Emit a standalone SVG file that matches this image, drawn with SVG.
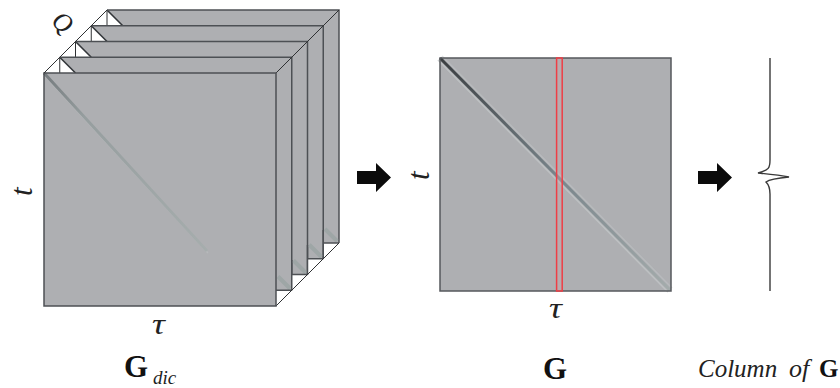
<svg xmlns="http://www.w3.org/2000/svg" width="840" height="388" viewBox="0 0 840 388">
<style>
.g{fill:#aeafb2}
.e{fill:none;stroke:#4d5054;stroke-width:1.5}
.w{fill:#fff}
.k{fill:none;stroke:#2f3133;stroke-width:1}
.s{fill:none;stroke:#33363a;stroke-width:1.6}
.sh{fill:none;stroke:#9ea6a6;stroke-width:4}
.i{font-family:"Liberation Serif",serif;font-style:italic;fill:#222}
.b{font-family:"Liberation Serif",serif;font-weight:bold;fill:#111}
</style>
<defs>
<linearGradient id="d1" gradientUnits="userSpaceOnUse" x1="44" y1="73" x2="207" y2="251"><stop offset="0" stop-color="#757b7e"/><stop offset=".25" stop-color="#969e9f"/><stop offset="1" stop-color="#a6adad"/></linearGradient>
<linearGradient id="d2" gradientUnits="userSpaceOnUse" x1="440" y1="58" x2="670" y2="290"><stop offset="0" stop-color="#3a3e41"/><stop offset=".5" stop-color="#78848a"/><stop offset="1" stop-color="#a4acac"/></linearGradient>
</defs>
<g id="layers">
<rect class="g" x="107" y="10" width="232" height="233"/>
<path class="w" d="M91.25 25.75L107 10L122.75 25.75Z"/>
<path class="s" d="M107 10L122.750 25.750"/>
<path class="k" d="M107 10V25.750"/>
<path class="e" d="M107 10H339V243"/>
<rect class="g" x="91.25" y="25.75" width="232" height="233"/>
<path class="w" d="M75.5 41.5L91.25 25.75L107 41.5Z"/>
<path class="s" d="M91.25 25.75L107 41.5"/>
<path class="k" d="M91.25 25.75V41.5"/>
<path class="e" d="M91.25 25.75H323.25V258.75"/>
<rect class="g" x="75.5" y="41.5" width="232" height="233"/>
<path class="w" d="M59.75 57.25L75.5 41.5L91.25 57.25Z"/>
<path class="s" d="M75.5 41.5L91.25 57.25"/>
<path class="k" d="M75.5 41.5V57.25"/>
<path class="e" d="M75.5 41.5H307.5V274.5"/>
<rect class="g" x="59.75" y="57.25" width="232" height="233"/>
<path class="w" d="M44 73L59.75 57.25L75.5 73Z"/>
<path class="s" d="M59.75 57.25L75.5 73"/>
<path class="k" d="M59.75 57.25V73"/>
<path class="e" d="M59.75 57.25H291.75V290.25"/>
<path class="sh" d="M325 229L337 241M309.25 244.750L321.5 257M293.5 260.500L305.750 272.750M278 276.500L290 288.500"/>
<path class="w" d="M323.25 243H339L323.25 258.75Z"/>
<path class="w" d="M307.5 258.75H323.25L307.5 274.5Z"/>
<path class="w" d="M291.75 274.5H307.5L291.75 290.25Z"/>
<path class="w" d="M276 290.25H291.75L276 306Z"/>
<path class="e" d="M323.25 243H339M307.5 258.75H323.25M291.75 274.5H307.5M276 290.25H291.75M323.25 230V258.75M307.5 245V274.5M291.75 260V290.25"/>
<path class="k" d="M339 10L276 73M339 243L276 306"/>
</g>
<g id="front">
<rect class="g" x="44" y="73" width="232" height="233"/>
<path d="M45 76L208 253" fill="none" stroke="#bcc0c1" stroke-width="1.5" opacity=".6"/>
<path d="M44 73L207 251" fill="none" stroke="url(#d1)" stroke-width="3"/>
<path class="e" d="M44 306V73H276V306Z"/>
<path class="k" d="M44 73L107 10"/>
</g>
<g id="matrix">
<rect class="g" x="440" y="58" width="231" height="233"/>
<path d="M438 60L668 292" fill="none" stroke="#c2c6c7" stroke-width="1.5" opacity=".8"/>
<path d="M442 56L672 288" fill="none" stroke="#c2c6c7" stroke-width="1.5" opacity=".5"/>
<path d="M440 58L670 290" fill="none" stroke="url(#d2)" stroke-width="3"/>
<rect x="440" y="58" width="231" height="233" fill="none" stroke="#55585c" stroke-width="1.5"/>
<rect x="556.6" y="58" width="5.6" height="233" fill="#c9a6aa" fill-opacity=".35" stroke="#ee3e46" stroke-width="1.5"/>
</g>
<g id="trace">
<path d="M770 58V160C770 168 769 170 758 173C768 174 779 175 789 177C778 178 770 179 766 182C770 186 770 190 770 194V291" fill="none" stroke="#3a3a3a" stroke-width="1.4"/>
</g>
<g id="connectors">
<path d="M357 171H376V163L391 177.500L376 192V184H357Z" fill="#0b0b0b"/>
<path d="M698 171H717V163L732 177.500L717 192V184H698Z" fill="#0b0b0b"/>
</g>
<g id="labels">
<text class="i" font-size="26" transform="translate(50 24) rotate(35)">Q</text>
<text class="i" font-size="31" transform="translate(32 196) rotate(-90)">t</text>
<text class="i" font-size="30" transform="translate(152 334) scale(1.2 1)">τ</text>
<text class="b" font-size="31" x="124" y="377">G</text>
<text class="i" font-size="19" x="153" y="384">dic</text>
<text class="i" font-size="31" transform="translate(429 180) rotate(-90)">t</text>
<text class="i" font-size="30" transform="translate(549 318) scale(1.2 1)">τ</text>
<text class="b" font-size="31" x="543" y="379">G</text>
<text class="i" font-size="25" x="698" y="377">Column</text>
<text class="i" font-size="26" x="789" y="377">of</text>
<text class="b" font-size="25" x="819" y="377">G</text>
</g>
</svg>
